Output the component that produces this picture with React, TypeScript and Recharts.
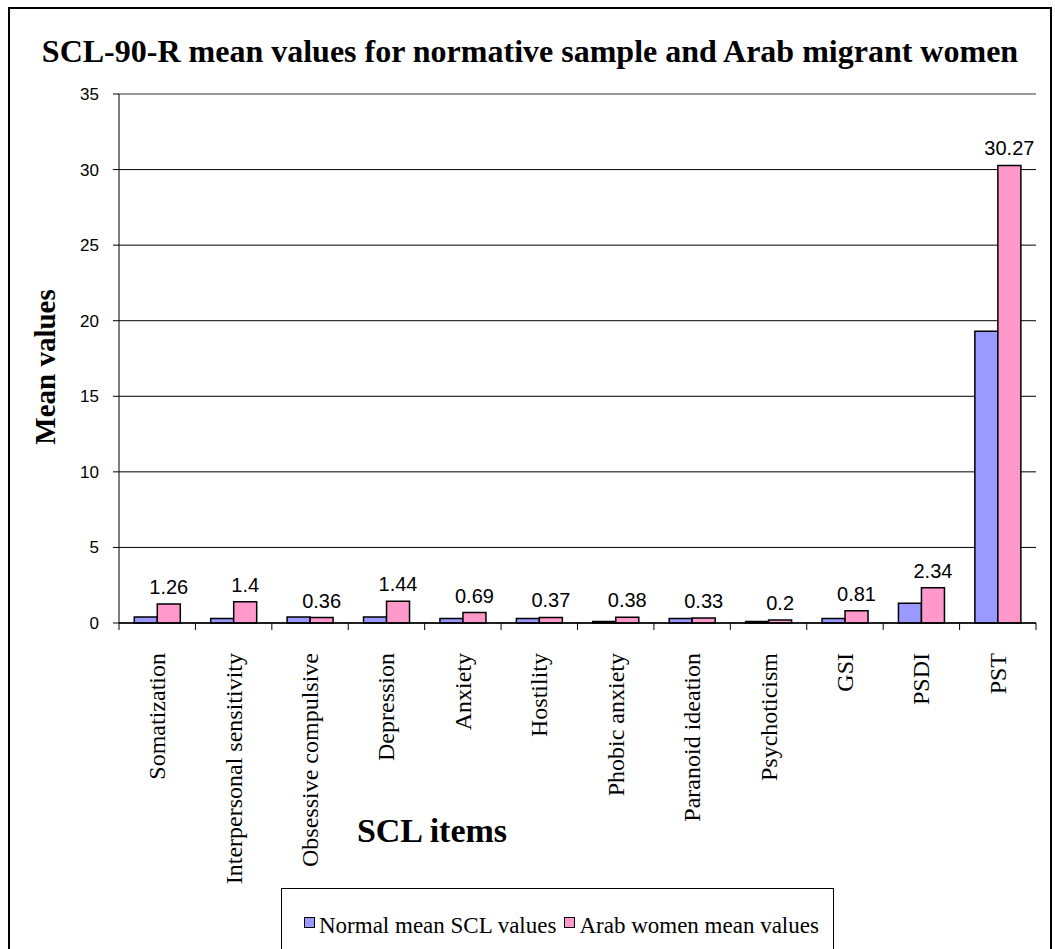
import React from 'react';
import { BarChart, Bar, XAxis, YAxis, CartesianGrid, ReferenceLine, LabelList } from 'recharts';

const categories = [
  'Somatization',
  'Interpersonal sensitivity',
  'Obsessive compulsive',
  'Depression',
  'Anxiety',
  'Hostility',
  'Phobic anxiety',
  'Paranoid ideation',
  'Psychoticism',
  'GSI',
  'PSDI',
  'PST',
];
const normalValues = [0.4, 0.3, 0.4, 0.4, 0.3, 0.3, 0.1, 0.3, 0.1, 0.3, 1.3, 19.3];
const arabValues = [1.26, 1.4, 0.36, 1.44, 0.69, 0.37, 0.38, 0.33, 0.2, 0.81, 2.34, 30.27];
const yTicks = [0, 5, 10, 15, 20, 25, 30, 35];

const BLUE = '#9999ff';
const PINK = '#ff99cc';
const SERIF = '"Liberation Serif", "Times New Roman", serif';
const SANS = '"Liberation Sans", Arial, sans-serif';

const data = categories.map((name, i) => ({
  name,
  normal: normalValues[i],
  arab: arabValues[i],
}));

// category label rotated, plus Excel-style tick marks on the category boundaries
const CategoryTick = (props: any) => {
  const { x, y, payload, index } = props;
  const half = payload && payload.offset ? payload.offset : 38.2;
  return (
    <g>
      <line x1={x - half} y1={y} x2={x - half} y2={y + 7} stroke="#000" strokeWidth={1} />
      {index === categories.length - 1 && (
        <line x1={x + half} y1={y} x2={x + half} y2={y + 7} stroke="#000" strokeWidth={1} />
      )}
      <text
        x={0}
        y={0}
        transform={`translate(${x + 8},${y + 30}) rotate(-90)`}
        textAnchor="end"
        fontFamily={SERIF}
        fontSize={24}
        fill="#000"
      >
        {payload.value}
      </text>
    </g>
  );
};

const Swatch = ({ color }: { color: string }) => (
  <span
    style={{
      display: 'inline-block',
      width: 9,
      height: 9,
      background: color,
      border: '1.5px solid #000',
      marginRight: 4,
      verticalAlign: 'top',
      marginTop: 4,
    }}
  />
);

export default function App() {
  return (
    <div style={{ position: 'absolute', left: 0, top: 0, width: 1055, height: 949, overflow: 'hidden', background: '#fff' }}>
      <div
        style={{
          position: 'absolute',
          left: 8,
          top: 7,
          width: 1040,
          height: 960,
          border: '2px solid #000',
        }}
      />
      <div
        style={{
          position: 'absolute',
          left: 0,
          top: 31,
          width: 1060,
          textAlign: 'center',
          fontFamily: SERIF,
          fontWeight: 'bold',
          fontSize: 32,
          lineHeight: '40px',
          whiteSpace: 'nowrap',
        }}
      >
        SCL-90-R mean values for normative sample and Arab migrant women
      </div>
      <div style={{ position: 'absolute', left: 0, top: 0 }}>
        <BarChart
          width={1055}
          height={949}
          data={data}
          margin={{ top: 94, right: 19, left: 59, bottom: 86 }}
          barGap={0}
          barCategoryGap="20%"
        >
          <CartesianGrid vertical={false} stroke="#000" strokeWidth={1} />
          <XAxis
            dataKey="name"
            interval={0}
            tickSize={0}
            tickMargin={0}
            height={240}
            axisLine={{ stroke: '#000', strokeWidth: 1.5 }}
            tickLine={false}
            tick={<CategoryTick />}
            label={{
              content: () => (
                <text x={432} y={842} textAnchor="middle" fontFamily={SERIF} fontWeight="bold" fontSize={34} fill="#000">
                  SCL items
                </text>
              ),
            }}
          />
          <YAxis
            domain={[0, 35]}
            ticks={yTicks}
            interval={0}
            width={60}
            tickSize={6}
            tickMargin={14}
            axisLine={{ stroke: '#000', strokeWidth: 1 }}
            tickLine={{ stroke: '#000' }}
            tick={{ fontFamily: SANS, fontSize: 17, fill: '#000' }}
            label={{
              content: () => (
                <text
                  x={0}
                  y={0}
                  transform="translate(55,367) rotate(-90)"
                  textAnchor="middle"
                  fontFamily={SERIF}
                  fontWeight="bold"
                  fontSize={29}
                  fill="#000"
                >
                  Mean values
                </text>
              ),
            }}
          />
          <YAxis
            yAxisId="right"
            orientation="right"
            domain={[0, 35]}
            width={0}
            tick={false}
            tickLine={false}
            axisLine={{ stroke: '#c0c0c0', strokeWidth: 1.5 }}
          />
          <ReferenceLine y={35} stroke="#a0a0a0" strokeWidth={1.5} />
          <Bar dataKey="normal" fill={BLUE} stroke="#000" strokeWidth={1.5} isAnimationActive={false} />
          <Bar dataKey="arab" fill={PINK} stroke="#000" strokeWidth={1.5} isAnimationActive={false}>
            <LabelList dataKey="arab" position="top" offset={10} fontFamily={SANS} fontSize={20} fill="#000" />
          </Bar>
        </BarChart>
      </div>
      <div
        style={{
          position: 'absolute',
          left: 281,
          top: 888,
          width: 551,
          height: 80,
          border: '1px solid #000',
          background: '#fff',
          fontFamily: SERIF,
          fontSize: 23,
          color: '#000',
        }}
      >
        <div style={{ position: 'absolute', left: 22, top: 24, whiteSpace: 'nowrap', lineHeight: '26px' }}>
          <Swatch color={BLUE} />
          <span>Normal mean SCL values</span>
          <span style={{ display: 'inline-block', width: 8 }} />
          <Swatch color={PINK} />
          <span>Arab women mean values</span>
        </div>
      </div>
    </div>
  );
}
